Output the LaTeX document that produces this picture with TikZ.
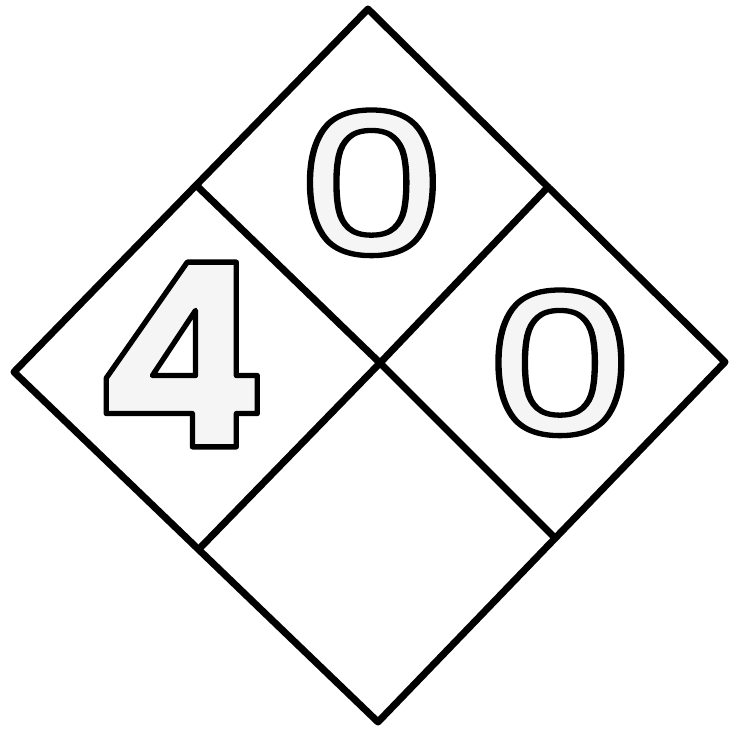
\documentclass[tikz,border=0pt]{standalone}
\usepackage{fontspec}
\newfontfamily\plaquefont{Poppins}
\newfontfamily\zerofont{Poppins Medium}
% outlined digit: fill in the text colour, stroke in black
\newcommand{\outlinedigit}[1]{\special{pdf:literal direct 2 Tr 1.5 w 0 G}#1\special{pdf:literal direct 0 Tr}}
\tikzset{
    digit/.style={text=gray!8, inner sep=0pt, font=\plaquefont\bfseries},
    zero/.style={text=gray!8, inner sep=0pt, font=\zerofont}
}

\begin{document}
\begin{tikzpicture}[line cap=round,line join=round,x=1cm,y=1cm]
        \useasboundingbox (0,0) rectangle (7.33,7.32);
        \draw[line width=2pt]   (3.68,7.23) -- (7.25,3.70) -- (3.78,0.10) -- (0.14,3.60) -- cycle;
        \draw[line width=2pt]   (1.97,5.46) -- (3.80,3.69) -- (5.55,1.94);
        \draw[line width=2pt]   (5.48,5.45) -- (3.80,3.69) -- (2.00,1.84);

        \node[digit] (health) at (1.805,3.775) {\fontsize{73}{73}\selectfont\outlinedigit{4}};
        \node[zero] (fire) at (3.715,5.49) {\fontsize{56}{56}\selectfont\scalebox{1.2}[1]{\outlinedigit{0}}};
        \node[zero] (reactivity) at (5.60,3.69) {\fontsize{56}{56}\selectfont\scalebox{1.2}[1]{\outlinedigit{0}}};
    \end{tikzpicture}
\end{document}
